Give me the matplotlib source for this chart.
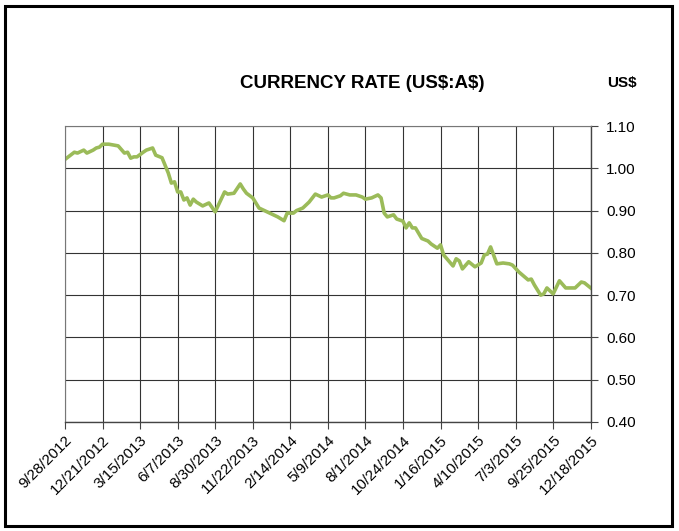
import matplotlib.pyplot as plt
import pandas as pd
from matplotlib.patches import Rectangle

plt.rcParams['font.family'] = ['Liberation Sans', 'DejaVu Sans']

# weekly rate readings (US$ per A$)
dates = ["2012-09-28", "2012-10-19", "2012-10-26", "2012-11-09", "2012-11-16", "2012-11-30",
         "2012-12-07", "2012-12-14", "2012-12-21", "2013-01-04", "2013-01-25", "2013-02-08",
         "2013-02-15", "2013-02-22", "2013-03-01", "2013-03-08", "2013-03-22", "2013-03-29",
         "2013-04-12", "2013-04-19", "2013-05-03", "2013-05-17", "2013-05-24", "2013-05-31",
         "2013-06-07", "2013-06-14", "2013-06-21", "2013-06-28", "2013-07-05", "2013-07-12",
         "2013-07-19", "2013-08-02", "2013-08-16", "2013-08-30", "2013-09-20", "2013-09-27",
         "2013-10-11", "2013-10-25", "2013-11-01", "2013-11-08", "2013-11-22", "2013-12-06",
         "2013-12-20", "2014-01-03", "2014-01-17", "2014-01-31", "2014-02-07", "2014-02-21",
         "2014-02-28", "2014-03-14", "2014-03-28", "2014-04-11", "2014-04-25", "2014-05-09",
         "2014-05-16", "2014-05-23", "2014-06-06", "2014-06-13", "2014-06-27", "2014-07-11",
         "2014-07-25", "2014-08-01", "2014-08-15", "2014-08-29", "2014-09-05", "2014-09-12",
         "2014-09-19", "2014-10-03", "2014-10-10", "2014-10-24", "2014-10-31", "2014-11-07",
         "2014-11-14", "2014-11-21", "2014-12-05", "2014-12-19", "2014-12-26", "2015-01-09",
         "2015-01-16", "2015-01-23", "2015-02-13", "2015-02-20", "2015-02-27", "2015-03-06",
         "2015-03-20", "2015-04-03", "2015-04-17", "2015-04-24", "2015-05-01", "2015-05-08",
         "2015-05-22", "2015-06-05", "2015-06-19", "2015-06-26", "2015-07-10", "2015-07-31",
         "2015-08-07", "2015-08-14", "2015-08-28", "2015-09-04", "2015-09-11", "2015-09-25",
         "2015-10-09", "2015-10-23", "2015-11-13", "2015-11-27", "2015-12-04", "2015-12-18"]
rate = [1.021, 1.038, 1.036, 1.043, 1.036, 1.043,
        1.048, 1.050, 1.057, 1.057, 1.053, 1.036,
        1.038, 1.024, 1.027, 1.027, 1.038, 1.043,
        1.048, 1.031, 1.025, 0.989, 0.965, 0.968,
        0.944, 0.944, 0.925, 0.930, 0.913, 0.927,
        0.920, 0.911, 0.918, 0.897, 0.944, 0.939,
        0.941, 0.963, 0.951, 0.941, 0.930, 0.906,
        0.899, 0.892, 0.885, 0.876, 0.894, 0.894,
        0.900, 0.906, 0.920, 0.939, 0.932, 0.937,
        0.930, 0.930, 0.935, 0.941, 0.937, 0.937,
        0.932, 0.927, 0.930, 0.937, 0.930, 0.894,
        0.885, 0.890, 0.880, 0.875, 0.859, 0.871,
        0.859, 0.859, 0.834, 0.828, 0.821, 0.811,
        0.819, 0.795, 0.769, 0.786, 0.781, 0.762,
        0.779, 0.767, 0.776, 0.795, 0.797, 0.814,
        0.774, 0.776, 0.774, 0.771, 0.755, 0.736,
        0.738, 0.724, 0.700, 0.703, 0.717, 0.703,
        0.734, 0.717, 0.717, 0.731, 0.729, 0.717]

tick_dates = ["2012-09-28", "2012-12-21", "2013-03-15", "2013-06-07", "2013-08-30",
              "2013-11-22", "2014-02-14", "2014-05-09", "2014-08-01", "2014-10-24",
              "2015-01-16", "2015-04-10", "2015-07-03", "2015-09-25", "2015-12-18"]
yticks = [0.40, 0.50, 0.60, 0.70, 0.80, 0.90, 1.00, 1.10]

x = pd.to_datetime(dates)
xt = pd.to_datetime(tick_dates)

fig = plt.figure(figsize=(6.79, 5.31), dpi=100)
ax = fig.add_axes([0.0957, 0.2053, 0.7743, 0.5574])

ax.plot(x, rate, color='#9BBB59', lw=2.6, solid_joinstyle='round')

ax.set_xlim(xt[0], xt[-1])
ax.set_ylim(0.40, 1.10)
ax.set_xticks(xt)
ax.set_xticklabels([f"{d.month}/{d.day}/{d.year}" for d in xt], rotation=45,
                   ha='right', rotation_mode='anchor', fontsize=11)
ax.set_yticks(yticks)
ax.set_yticklabels([f"{v:.2f}" for v in yticks], fontsize=11)
ax.yaxis.tick_right()
ax.tick_params(axis='both', direction='out', length=5, width=0.8, color='#444')
ax.tick_params(axis='y', pad=6)
ax.tick_params(axis='x', pad=3)
ax.grid(True, color='#333333', lw=0.8)
ax.set_axisbelow(True)
for s in ['top', 'left']:
    ax.spines[s].set_color('#777777')
    ax.spines[s].set_linewidth(0.8)
for s in ['right', 'bottom']:
    ax.spines[s].set_color('#444444')
    ax.spines[s].set_linewidth(1.0)

fig.text(362 / 679, 1 - 83 / 531, r"CURRENCY RATE (US\$:A\$)", ha='center', va='center',
         fontsize=13.5, fontweight='bold')
fig.text(622 / 679, 1 - 83 / 531, "US$", ha='center', va='center',
         fontsize=11, fontweight='bold')

fig.patches.append(Rectangle((5 / 679, 5 / 531), 667 / 679, 520 / 531, transform=fig.transFigure,
                             fill=False, edgecolor='black', lw=2.2))

fig.savefig('out.png', dpi=100)
